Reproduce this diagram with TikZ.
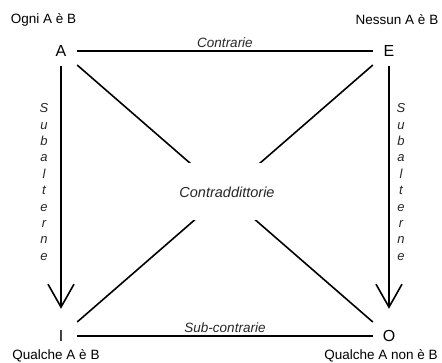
\documentclass[tikz,border=0pt]{standalone}
\usepackage{fontspec}
\setmainfont{Liberation Sans}
\usepackage{tikz}
\usetikzlibrary{arrows.meta}

\begin{document}
\begin{tikzpicture}[x=1pt, y=-1pt,
    vertex/.style={minimum width=32pt, minimum height=30pt, inner sep=0pt,
      font=\fontsize{16}{18}\selectfont},
    corner/.style={inner sep=0pt, font=\fontsize{13.5}{16}\selectfont},
    rel/.style={inner sep=0pt, text=black!85, font=\fontsize{13.5}{16}\selectfont\itshape},
    edge/.style={line width=1.6pt},
    subarrow/.style={edge, shorten >=12pt,
      -{Straight Barb[length=23pt, width=26pt]}}]
  \useasboundingbox (0,0) rectangle (442,363);
  % the four corners of the square
  \node[vertex] (A) at (61,51) {A};
  \node[vertex] (E) at (389,51) {E};
  \node[vertex] (I) at (61,336) {I};
  \node[vertex] (O) at (389,336) {O};
  \node[corner] (ogni) at (43.5,20) {Ogni A è B};
  \node[corner] (nessun) at (397,20) {Nessun A è B};
  \node[corner] (qualche) at (56,356) {Qualche A è B};
  \node[corner] (qualchenon) at (381,356) {Qualche A non è B};
  % relations
  \draw[edge] (A) -- node[rel, midway, anchor=south, yshift=3pt] (contrarie) {Contrarie} (E);
  \draw[edge] (I) -- node[rel, midway, anchor=south, yshift=3pt] (subcontrarie) {Sub-contrarie} (O);
  \draw[subarrow] (A) -- (I);
  \draw[subarrow] (E) -- (O);
  \draw[edge] (A) -- (O);
  \draw[edge] (E) -- (I);
  \node[rel, fill=white, minimum height=57pt, inner xsep=5pt,
    font=\fontsize{14.5}{16}\selectfont\itshape] (contraddittorie) at (227,192) {Contraddittorie};
  \node[rel, align=center, font=\fontsize{13}{16.4}\selectfont\itshape] (subL) at (44,182)
    {S\\u\\b\\a\\l\\t\\e\\r\\n\\e};
  \node[rel, align=center, font=\fontsize{13}{16.4}\selectfont\itshape] (subR) at (401,182)
    {S\\u\\b\\a\\l\\t\\e\\r\\n\\e};
\end{tikzpicture}
\end{document}
